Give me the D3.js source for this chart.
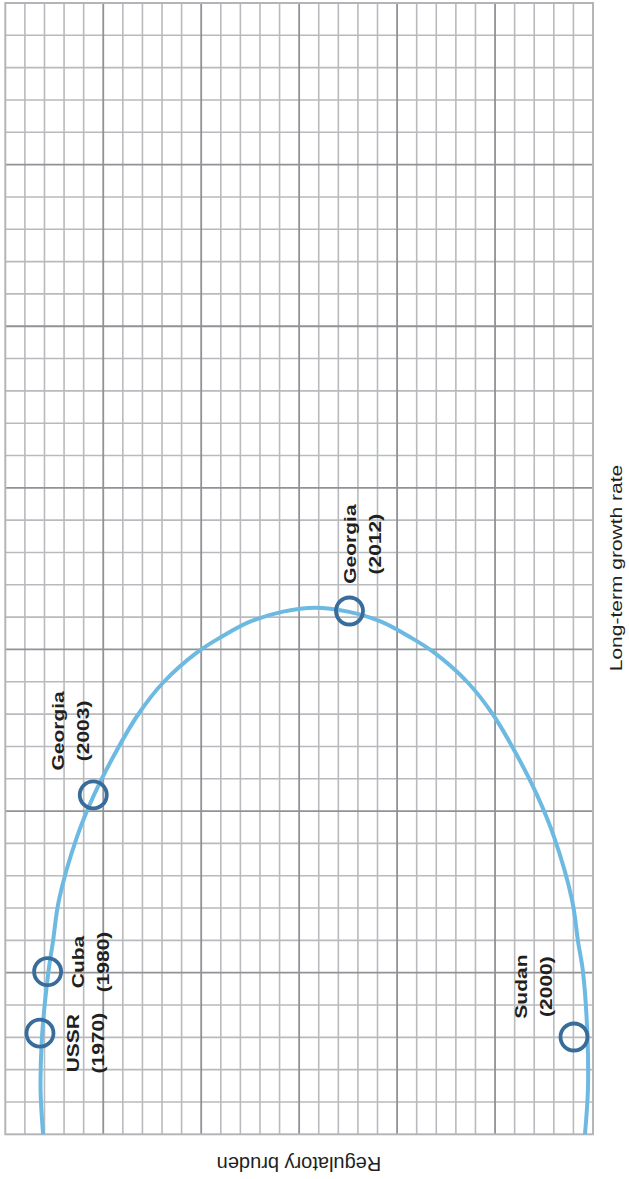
<!DOCTYPE html>
<html>
<head>
<meta charset="utf-8">
<script src="https://cdn.jsdelivr.net/npm/d3@7"></script>
<style>
  html, body { margin: 0; padding: 0; background: #fff; }
  text { font-family: "Liberation Sans", Arial, Helvetica, sans-serif; fill: #231f20; }
</style>
</head>
<body>
<div id="chart"></div>
<script>
// grid runs 30 columns (burden) by 35 rows (growth)
const burdenMax = 30;
const growthMax = 35;

// the curve (burden, growth)
const curveBurden = [1.93, 1.80, 1.87, 2.20, 2.43, 2.74, 3.66, 4.53, 5.70, 6.77, 8.05, 9.84, 11.06, 12.49, 14.18, 15.81,
  17.49, 19.18, 20.61, 21.83, 23.62, 24.90, 25.97, 27.14, 28.01, 28.93, 29.24, 29.49, 29.72, 29.74, 29.59];
const curveGrowth = [0.0, 1.37, 2.98, 5.02, 5.95, 7.25, 9.20, 10.50, 11.89, 12.98, 13.97, 14.93, 15.40, 15.86, 16.17, 16.29,
  16.17, 15.86, 15.40, 14.93, 13.97, 12.98, 11.89, 10.50, 9.20, 7.25, 5.95, 5.02, 2.98, 1.37, 0.0];

// marked countries
const countries = ["USSR", "Cuba", "Georgia", "Georgia", "Sudan"];
const years = ["(1970)", "(1980)", "(2003)", "(2012)", "(2000)"];
const pointBurden = [1.77, 2.16, 4.49, 17.57, 29.03];
const pointGrowth = [3.13, 5.03, 10.50, 16.19, 3.01];
// where each label sits (first line baseline, label middle)
const labelBurden = [3.74, 4.04, 3.02, 17.88, 26.65];
const labelGrowth = [2.82, 5.33, 12.48, 18.26, 4.57];

const width = 629, height = 1179;
const plotLeft = 5.3, plotRight = 593, plotTop = 3, plotBottom = 1134.3;

const svg = d3.select('#chart')
  .append('svg')
  .attr('width', width)
  .attr('height', height);

const x = d3.scaleLinear().domain([0, burdenMax]).range([plotLeft, plotRight]);
const y = d3.scaleLinear().domain([0, growthMax]).range([plotBottom, plotTop]);

// grid: minor first, then major lines every 5
const grid = svg.append('g');
d3.range(0, burdenMax + 1).filter(d => d % 5 !== 0).forEach(d => {
  grid.append('line')
    .attr('x1', x(d)).attr('x2', x(d))
    .attr('y1', y(0)).attr('y2', y(growthMax))
    .attr('stroke', '#b9babd').attr('stroke-width', 1.6);
});
d3.range(0, growthMax + 1).filter(d => d % 5 !== 0).forEach(d => {
  grid.append('line')
    .attr('x1', x(0)).attr('x2', x(burdenMax))
    .attr('y1', y(d)).attr('y2', y(d))
    .attr('stroke', '#b9babd').attr('stroke-width', 1.6);
});
d3.range(5, burdenMax, 5).forEach(d => {
  grid.append('line')
    .attr('x1', x(d)).attr('x2', x(d))
    .attr('y1', y(0)).attr('y2', y(growthMax))
    .attr('stroke', '#919296').attr('stroke-width', 1.8);
});
d3.range(5, growthMax, 5).forEach(d => {
  grid.append('line')
    .attr('x1', x(0)).attr('x2', x(burdenMax))
    .attr('y1', y(d)).attr('y2', y(d))
    .attr('stroke', '#919296').attr('stroke-width', 1.8);
});
grid.append('rect')
  .attr('x', x(0)).attr('y', y(growthMax))
  .attr('width', x(burdenMax) - x(0))
  .attr('height', y(0) - y(growthMax))
  .attr('fill', 'none')
  .attr('stroke', '#b4b5b8').attr('stroke-width', 2);

// the curve
const curveData = curveBurden.map((b, i) => ({ b: b, g: curveGrowth[i] }));
const line = d3.line()
  .x(d => x(d.b))
  .y(d => y(d.g))
  .curve(d3.curveCatmullRom.alpha(0.5));

svg.append('path')
  .datum(curveData)
  .attr('d', line)
  .attr('fill', 'none')
  .attr('stroke', '#6cb9e2')
  .attr('stroke-width', 4);

// circles
svg.selectAll('circle.pt')
  .data(pointBurden)
  .enter()
  .append('circle')
  .attr('class', 'pt')
  .attr('cx', d => x(d))
  .attr('cy', (d, i) => y(pointGrowth[i]))
  .attr('r', 13.5)
  .attr('fill', 'none')
  .attr('stroke', '#386c9b')
  .attr('stroke-width', 3.8);

// labels, written sideways and squeezed like the rest of the picture
const squeeze = 0.77;
countries.forEach((c, i) => {
  const lx = x(labelBurden[i]);
  const ly = y(labelGrowth[i]);
  [c, years[i]].forEach((t, k) => {
    svg.append('text')
      .attr('transform', `translate(${lx + k * 25},${ly}) rotate(-90) scale(1,${squeeze})`)
      .attr('text-anchor', 'middle')
      .style('font-size', '21px')
      .style('font-weight', 'bold')
      .text(t);
  });
});

// axis titles
svg.append('text')
  .attr('transform', `translate(621.5,568) rotate(-90) scale(1,${squeeze})`)
  .attr('text-anchor', 'middle')
  .style('font-size', '21px')
  .text('Long-term growth rate');

svg.append('text')
  .attr('transform', 'translate(299,1157) rotate(180)')
  .attr('text-anchor', 'middle')
  .style('font-size', '20px')
  .text('Regulatory bruden');
</script>
</body>
</html>
